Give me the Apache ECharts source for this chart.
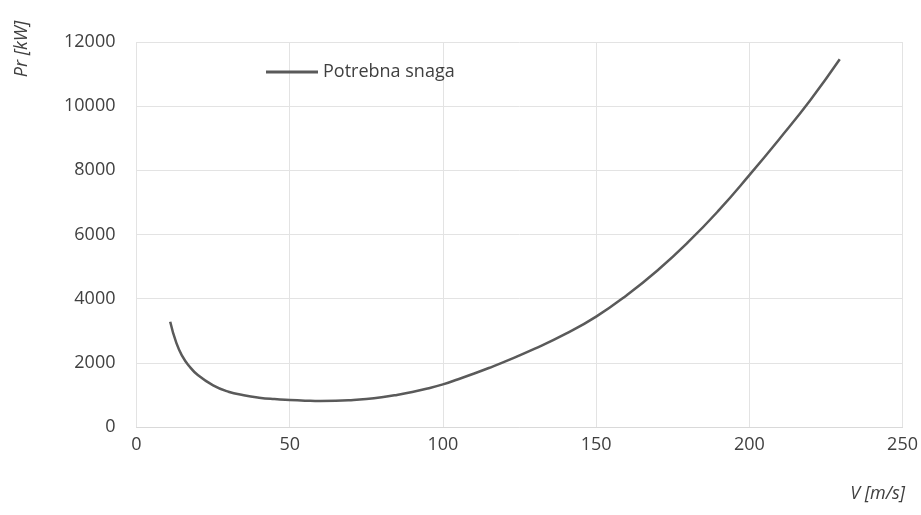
<!DOCTYPE html>
<html>
<head>
<meta charset="utf-8">
<script src="https://cdn.jsdelivr.net/npm/echarts@6/dist/echarts.min.js"></script>
<style>
html,body{margin:0;padding:0;background:#fff;}
#chart{width:921px;height:515px;}
</style>
</head>
<body>
<div id="chart"></div>
<script>
var speeds = [11, 13, 15, 17, 20, 25, 30, 35, 40, 45, 50, 55, 60, 65, 70, 75, 80, 85, 90, 95, 100, 105, 110, 115, 120, 130, 140, 150, 160, 170, 180, 190, 200, 210, 220, 229.5];
var power  = [3280, 2620, 2200, 1920, 1620, 1300, 1100, 990, 915, 870, 842, 822, 810, 815, 835, 870, 925, 1000, 1090, 1200, 1330, 1490, 1660, 1840, 2030, 2440, 2900, 3440, 4110, 4880, 5760, 6750, 7850, 9000, 10200, 11460];
var seriesName = 'Potrebna snaga';
var xTitle = 'V [m/s]';
var yTitle = 'Pr [kW]';

var pts = speeds.map(function(v, i){ return [v, power[i]]; });
var font = '"Open Sans", sans-serif';
var chart = echarts.init(document.getElementById('chart'), null, {renderer:'canvas'});
chart.setOption({
  animation: false,
  backgroundColor: '#ffffff',
  grid: {left: 136.5, right: 17, top: 42, bottom: 88, containLabel: false},
  legend: {
    data: [{name: seriesName, icon: 'rect'}],
    left: 261, top: 58,
    itemWidth: 52, itemHeight: 3, itemGap: 5,
    textStyle: {fontFamily: font, fontSize: 18, color: '#404040'}
  },
  xAxis: {
    type: 'value', min: 0, max: 250, interval: 50,
    axisLine: {show: true, lineStyle: {color: '#d9d9d9', width: 1}},
    axisTick: {show: false},
    axisLabel: {fontFamily: font, fontSize: 18, color: '#404040', margin: 9},
    splitLine: {show: true, lineStyle: {color: '#e3e3e3', width: 1}}
  },
  yAxis: {
    type: 'value', min: 0, max: 12000, interval: 2000,
    axisLine: {show: false},
    axisTick: {show: false},
    axisLabel: {fontFamily: font, fontSize: 18, color: '#404040', margin: 21,
      formatter: function(v){ return String(v); }},
    splitLine: {show: true, lineStyle: {color: '#e3e3e3', width: 1}}
  },
  graphic: [
    {type: 'text', right: 16, top: 485, style: {text: xTitle, font: 'italic 18px ' + font, fill: '#404040'}},
    {type: 'text', x: 22, y: 49, rotation: Math.PI/2, style: {text: yTitle, font: 'italic 18px ' + font, fill: '#404040', align: 'center', verticalAlign: 'middle'}}
  ],
  series: [{
    name: seriesName,
    type: 'line',
    data: pts,
    smooth: 0.5,
    symbol: 'none',
    lineStyle: {color: '#5a5a5a', width: 2.5},
    itemStyle: {color: '#5a5a5a'}
  }]
});
</script>
</body>
</html>
